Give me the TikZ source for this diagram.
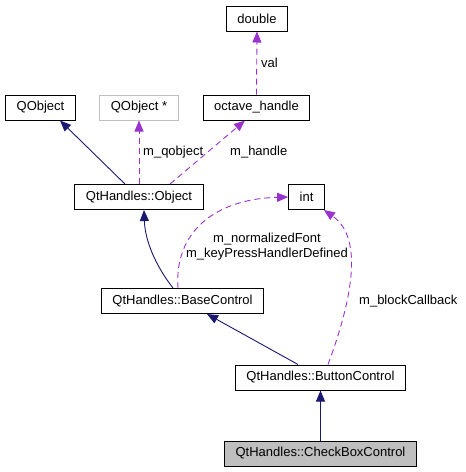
\documentclass[tikz,border=0pt]{standalone}
\usepackage{fontspec}
\setmainfont{Liberation Sans}
\usepackage{xcolor}
\usetikzlibrary{positioning,arrows.meta}

\definecolor{inhblue}{HTML}{191970}
\definecolor{usepurple}{HTML}{9A32CD}
\definecolor{boxgray}{HTML}{BFBFBF}

\begin{document}
\begin{tikzpicture}[
  x=1pt, y=-1pt,
  cls/.style={draw, line width=1pt, minimum height=25pt, inner xsep=11pt, inner ysep=0pt,
              font=\fontsize{13}{15}\selectfont, fill=white, anchor=center},
  ghost/.style={cls, draw=boxgray},
  focus/.style={cls, fill=boxgray},
  inh/.style={-{Triangle[length=11pt,width=9pt]}, inhblue, line width=0.9pt},
  use/.style={-{Triangle[length=11pt,width=9pt]}, usepurple, line width=0.9pt, dash pattern=on 6pt off 4pt},
  lbl/.style={font=\fontsize{13}{15}\selectfont, align=center, inner sep=0pt}
]
\useasboundingbox (0,0) rectangle (466,472);

%% Top row
\node[cls] (ndouble) at (257,18.5) {double};
\node[cls] (nqobj) at (40.5,107.5) {QObject};
\node[ghost] (nqptr) at (139,107.5) {QObject *};
\node[cls] (nhandle) at (256.5,107.5) {octave\_handle};

%% Middle rows
\node[cls] (nobject) at (139,197) {QtHandles::Object};
\node[cls] (nint) at (306.5,197) {int};
\node[cls] (nbase) at (182.5,301) {QtHandles::BaseControl};
\node[cls] (nbutton) at (320.5,377.5) {QtHandles::ButtonControl};
\node[focus] (ncheck) at (320.5,453.5) {QtHandles::CheckBoxControl};

%% Member relations
\draw[use] (nhandle.north) -- (ndouble.south);
\node[lbl, anchor=west] at (261,63) {val};
\draw[use] (nobject.north) -- (nqptr.south);
\node[lbl, anchor=west] at (143,152) {m\_qobject};
\draw[use] ([xshift=31pt]nobject.north) -- ([xshift=-11.5pt]nhandle.south);
\node[lbl, anchor=west] at (230,152) {m\_handle};
\draw[use] ([xshift=-4.5pt]nbase.north) .. controls (174,232) and (215,199) .. (nint.west);
\node[lbl] at (267,247) {m\_normalizedFont\\m\_keyPressHandlerDefined};
\draw[use] ([xshift=7.5pt]nbutton.north) .. controls (352,300) and (364,238) .. ([xshift=-1pt]nint.south east);
\node[lbl, anchor=west] at (359,301) {m\_blockCallback};

%% Inheritance
\draw[inh] ([xshift=-14pt]nobject.north) -- ([xshift=19.5pt]nqobj.south);
\draw[inh] ([xshift=-9.5pt]nbase.north) .. controls (155,265) and (145,240) .. ([xshift=5pt]nobject.south);
\draw[inh] ([xshift=-22.5pt]nbutton.north) -- ([xshift=24.5pt]nbase.south);
\draw[inh] (ncheck.north) -- (nbutton.south);
\end{tikzpicture}
\end{document}
